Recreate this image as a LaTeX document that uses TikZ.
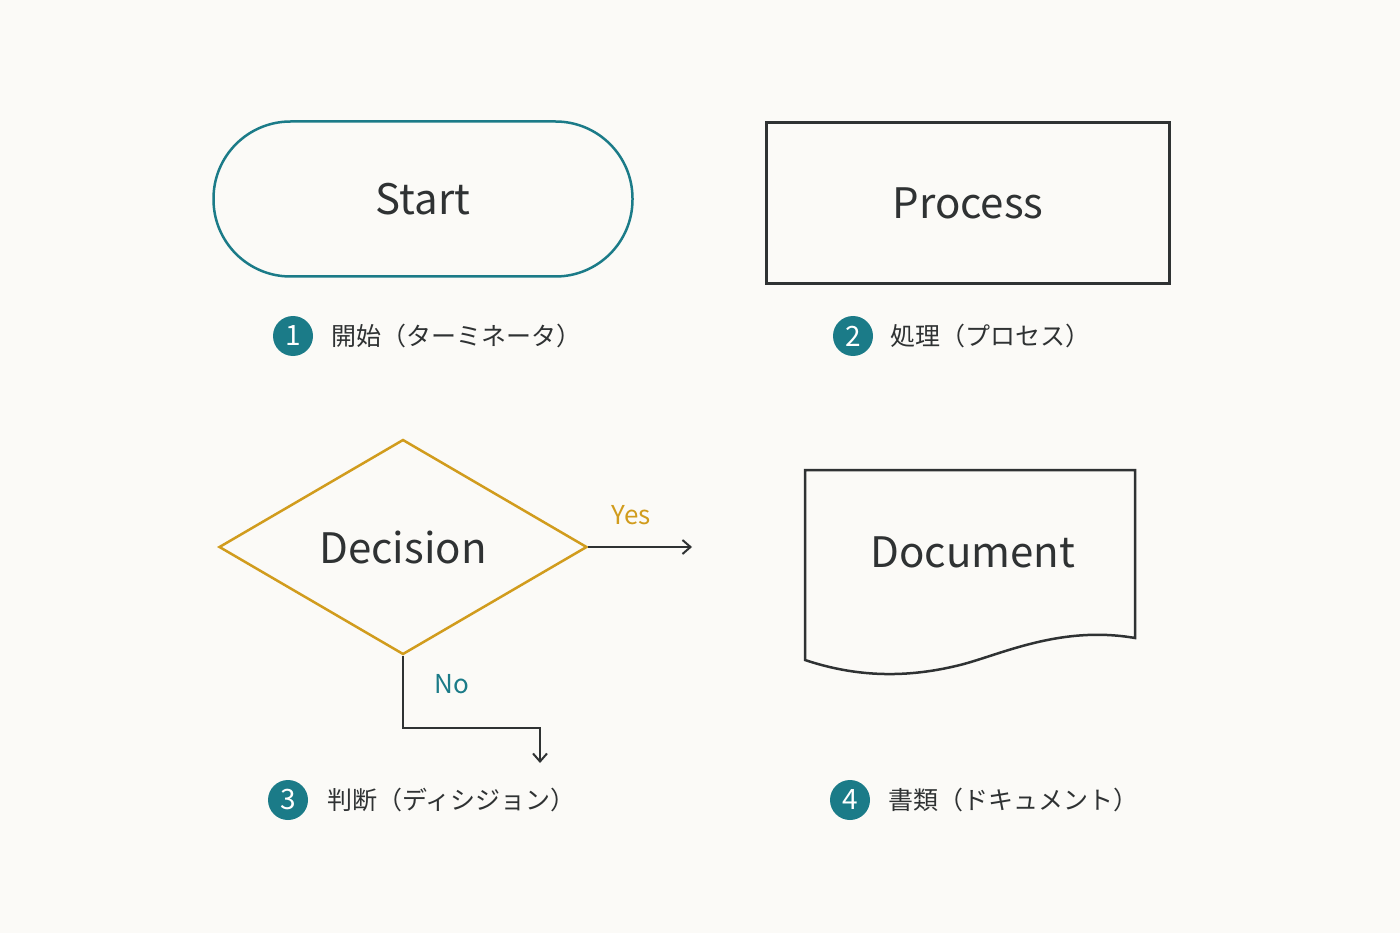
\documentclass[tikz,border=0pt]{standalone}
\usepackage{fontspec}
\setmainfont{Noto Sans CJK JP}
\usetikzlibrary{shapes.geometric,arrows.meta}
\definecolor{teal1}{HTML}{1B7B88}
\definecolor{gold1}{HTML}{D19C1D}
\definecolor{ink}{HTML}{2F3233}
\definecolor{paper}{HTML}{FBFAF7}
\tikzset{
  shapetext/.style={font=\fontsize{42}{46}\selectfont, text=ink},
  badge/.style={circle, fill=teal1, minimum size=40pt, inner sep=0pt, text=white,
    font=\fontsize{28}{30}\selectfont},
  caption/.style={anchor=west, text=ink, inner sep=0pt, font=\fontsize{25}{28}\selectfont},
  link/.style={draw=ink, line width=2pt, -{Straight Barb[length=8pt,width=14pt]}}
}
\begin{document}
\begin{tikzpicture}[x=1pt,y=-1pt]
		\fill[paper] (0,0) rectangle (1400,933);
		\useasboundingbox (0,0) rectangle (1400,933);
		
		%shapes
		\node (start) at (423,199) [draw=teal1, line width=2.5pt, rectangle, rounded corners=77pt,
		minimum width=419pt, minimum height=155pt, shapetext]{Start};
		\node (process) at (968,203) [draw=ink, line width=2.5pt, rectangle,
		minimum width=403pt, minimum height=161pt, shapetext]{Process};
		\node (decision) at (403,547) [draw=gold1, line width=2.5pt, diamond, aspect=1.71,
		inner sep=0pt, minimum width=368pt, minimum height=215pt, shapetext]{Decision};
		\draw[ink, line width=2.5pt] (805,470) -- (1135,470) -- (1135,638)
		.. controls (1060,625) and (1000,655) .. (960,665)
		.. controls (900,680) and (850,675) .. (805,660) -- cycle;
		\node (document) at (973,552) [shapetext]{Document};
		
		%decision links
		\coordinate (yes end) at (692,547);
		\coordinate (no end) at (540,763);
		\draw[link] (decision.east) -- (yes end);
		\draw[link] (decision.south) |- (540,728) -- (no end);
		\node (yes) at (631,515) [text=gold1, font=\fontsize{26}{28}\selectfont]{Yes};
		\node (no) at (452,684) [text=teal1, font=\fontsize{26}{28}\selectfont]{No};
		
		%captions
		\node (b1) at (293,336) [badge]{1};
		\node (c1) at (331,336) [caption]{開始（ターミネータ）};
		\node (b2) at (853,336) [badge]{2};
		\node (c2) at (890,336) [caption]{処理（プロセス）};
		\node (b3) at (288,800) [badge]{3};
		\node (c3) at (327,800) [caption]{判断（ディシジョン）};
		\node (b4) at (850,800) [badge]{4};
		\node (c4) at (888,800) [caption]{書類（ドキュメント）};
\end{tikzpicture}
\end{document}
